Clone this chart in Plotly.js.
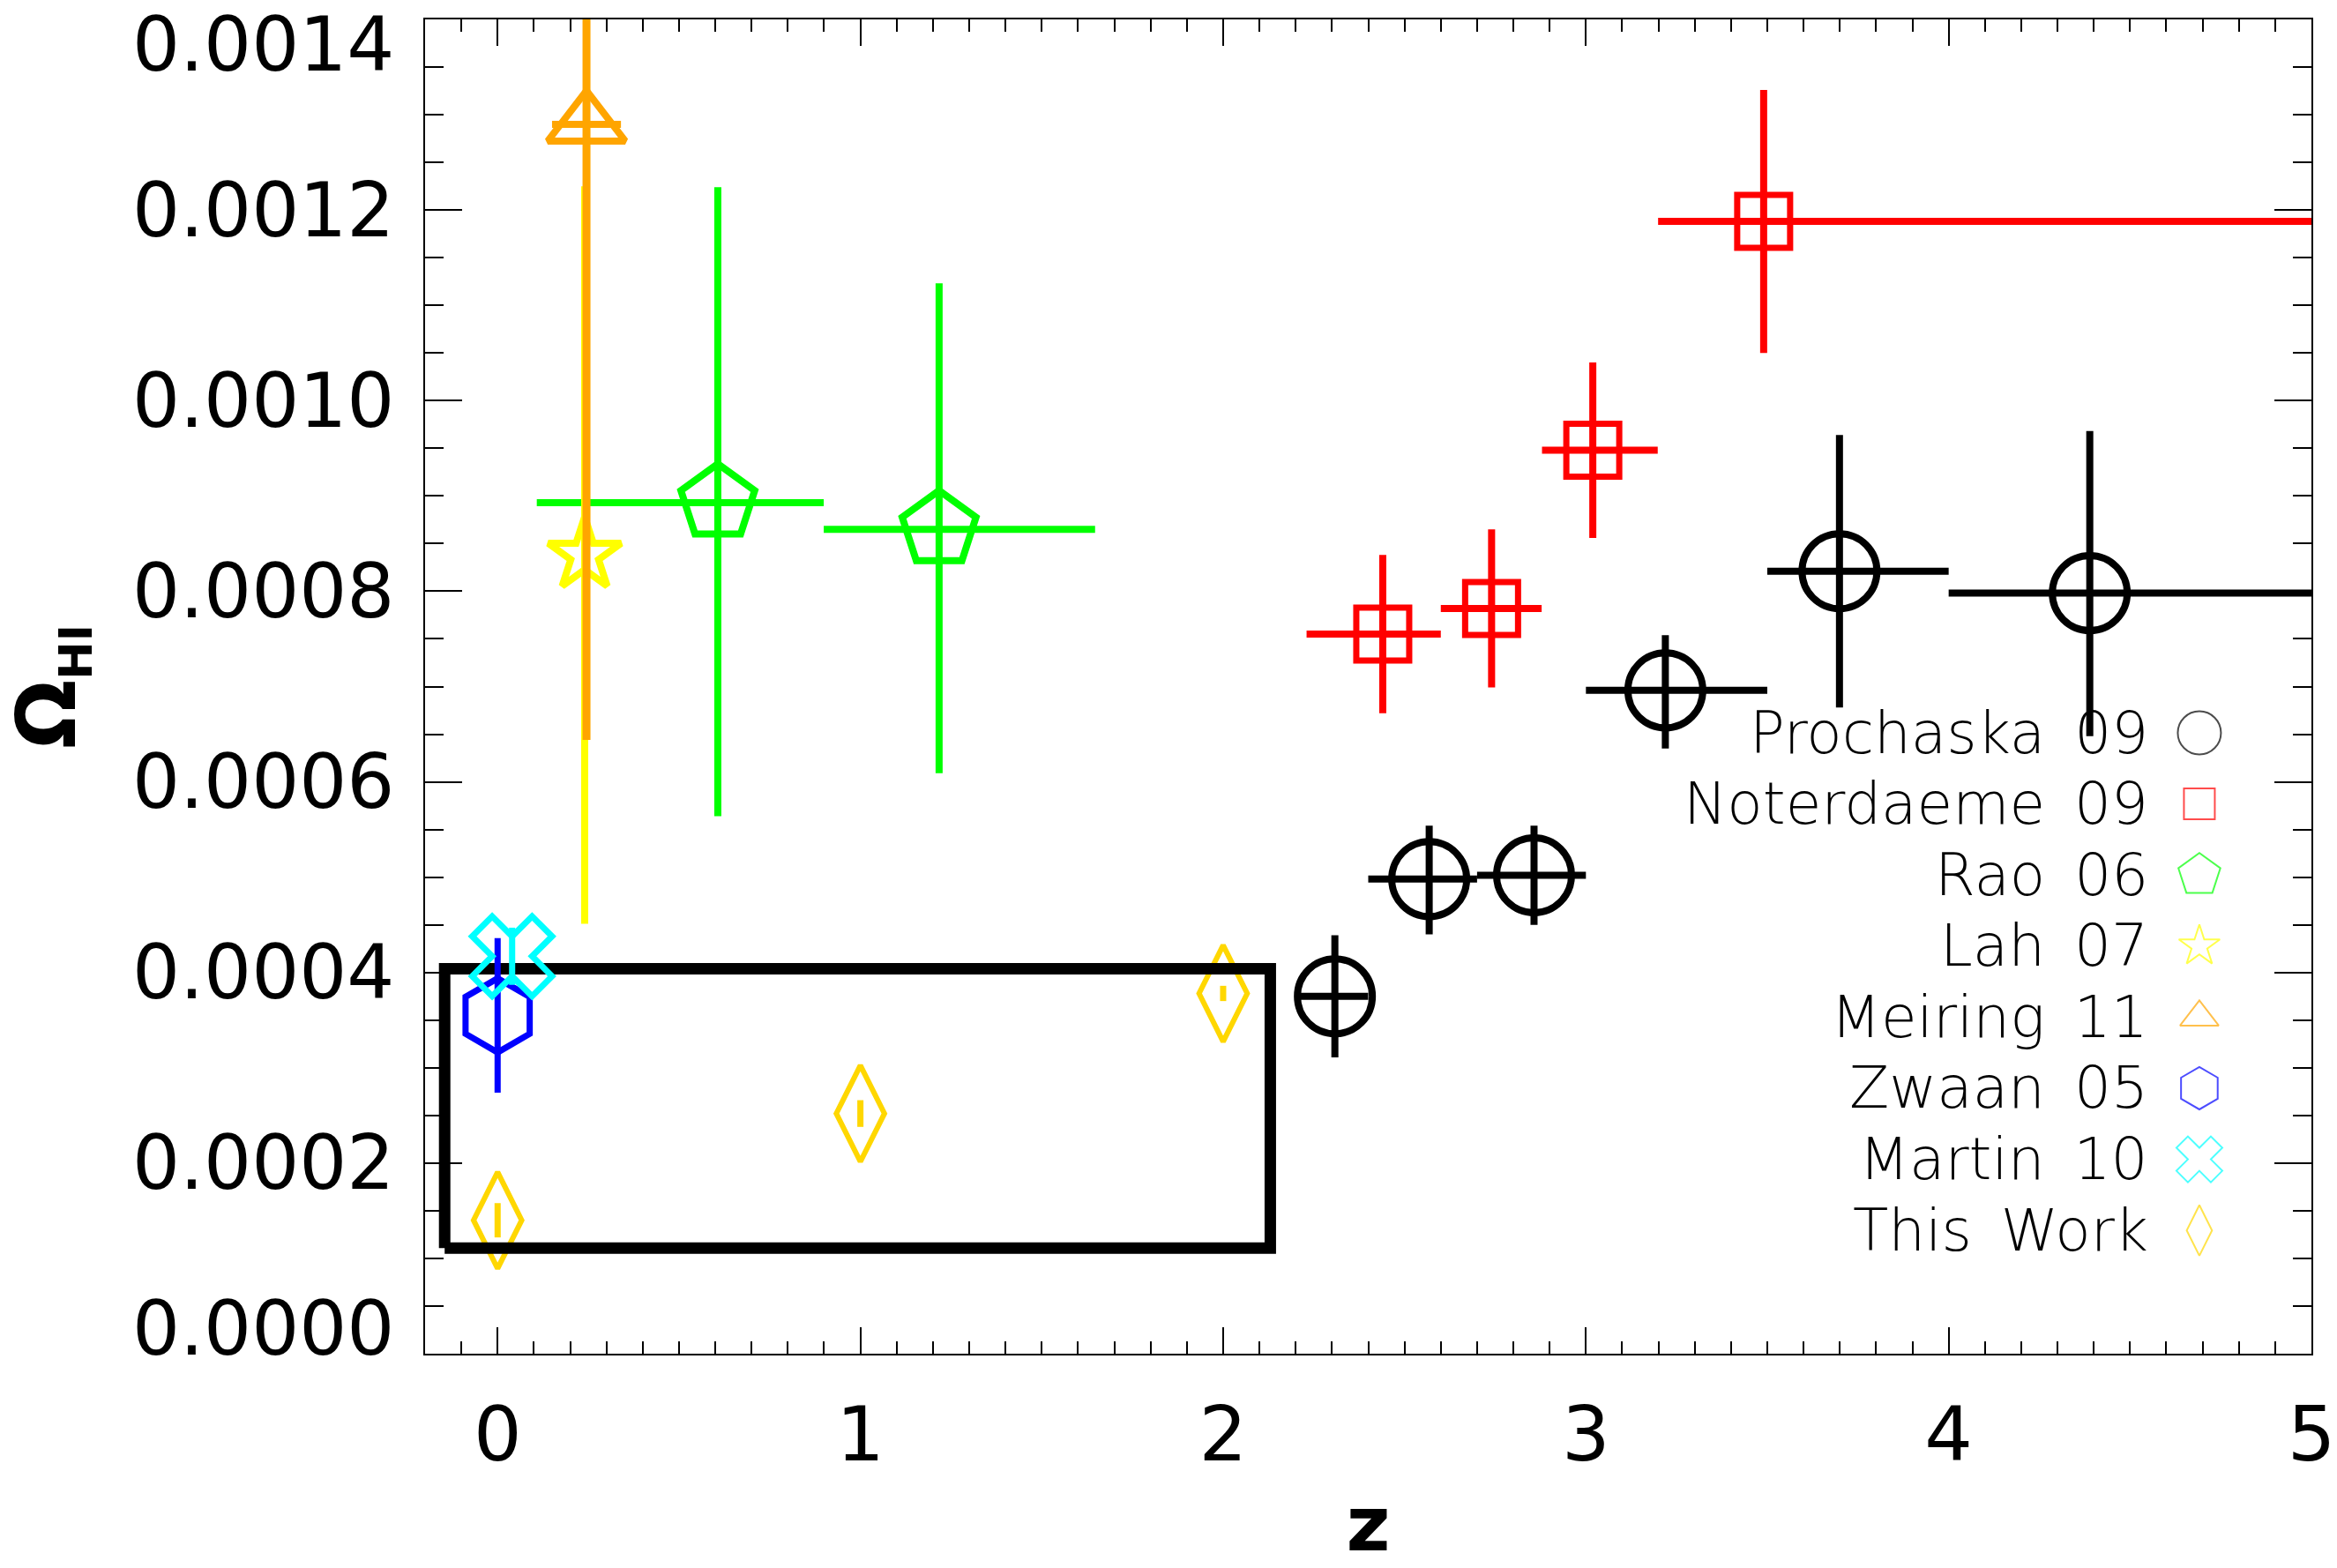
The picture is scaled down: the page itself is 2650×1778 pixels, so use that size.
<!DOCTYPE html>
<html><head><meta charset="utf-8">
<script src="https://cdn.plot.ly/plotly-3.0.1.min.js"></script>
<style>html,body{margin:0;padding:0;background:#fff}</style>
</head><body><div id="chart" style="width:2650px;height:1778px"></div>
<script>
// ---------------- data ----------------
// Prochaska 09
const proZ      = [2.308, 2.568, 2.857, 3.219, 3.699, 4.389];
const proOmega  = [0.000375, 0.000498, 0.000502, 0.000696, 0.000821, 0.000798];
const proErrUp  = [0.000064, 0.000056, 0.000052, 0.000058, 0.000143, 0.000170];
const proErrDn  = [0.000064, 0.000058, 0.000052, 0.000061, 0.000143, 0.000150];
const proZlo    = [0.108, 0.168, 0.157, 0.219, 0.199, 0.389];
const proZhi    = [0.092, 0.132, 0.143, 0.281, 0.301, 0.611];
// Noterdaeme 09
const notZ      = [2.440, 2.740, 3.019, 3.490];
const notOmega  = [0.000755, 0.000782, 0.000948, 0.001188];
const notErr    = [0.000083, 0.000083, 0.000092, 0.000138];
const notZlo    = [0.210, 0.140, 0.140, 0.291];
const notZhi    = [0.160, 0.138, 0.179, 1.510];
// Rao 06
const raoZ      = [0.607, 1.217];
const raoOmega  = [0.000893, 0.000865];
const raoErrUp  = [0.000331, 0.000258];
const raoErrDn  = [0.000329, 0.000256];
const raoZlo    = [0.499, 0.318];
const raoZhi    = [0.292, 0.430];
// Lah 07
const lahZ      = [0.240];
const lahOmega  = [0.000838];
const lahErr    = [0.000387];
// Meiring 11
const meiZ      = [0.245];
const meiOmega  = [0.00129];
const meiErr    = [0.000646];
const meiZerr   = [0.095];
// Zwaan 05
const zwaZ      = [0.0];
const zwaOmega  = [0.000355];
const zwaErr    = [0.000081];
// Martin 10
const marZ      = [0.04];
const marOmega  = [0.000417];
const marErr    = [0.00003];
// This Work
const thisZ     = [0, 1, 2];
const thisOmega = [0.00014, 0.000252, 0.000378];
const thisErr   = [0.000018, 0.000014, 0.000008];
// highlight box
const boxZ      = [-0.146, 2.130];
const boxOmega  = [0.0001107, 0.000404];

// axes
const xTickVals = [0, 1, 2, 3, 4, 5];
const xTickText = ['0', '1', '2', '3', '4', '5'];
const yTickVals = [0, 0.0002, 0.0004, 0.0006, 0.0008, 0.0010, 0.0012, 0.0014];
const yTickText = ['0.0000', '0.0002', '0.0004', '0.0006', '0.0008', '0.0010', '0.0012', '0.0014'];

// legend
const legendNames   = ['Prochaska 09', 'Noterdaeme 09', 'Rao 06', 'Lah 07', 'Meiring 11', 'Zwaan 05', 'Martin 10', 'This Work'];
const legendColors  = ['#000000', '#ff0000', '#00ff00', '#ffff00', '#ffa500', '#0000ff', '#00ffff', '#ffd700'];
const legendSymbols = ['circle-open', 'square-open', 'pentagon-open', 'star-open', 'triangle-up-open', 'hexagon-open', 'x-open', 'diamond-tall-open'];

// ---------------- styling ----------------
const FONT = 'DejaVu Sans';
const legendSizes = [49, 35, 50, 35, 38, 48, 46, 41];
const legTextX = 0.9145, legSymX = 0.9406, legY0 = 0.4653, legStep = 0.05327;
const yTickShift = [29, 0, 0, 0, 0, 0, 0, -28];

function errY(up, dn, color, th) {
  return {type: 'data', symmetric: false, array: up, arrayminus: dn, color: color, thickness: th, width: 0, visible: true};
}
function errX(hi, lo, color, th) {
  return {type: 'data', symmetric: false, array: hi, arrayminus: lo, color: color, thickness: th, width: 0, visible: true};
}
function pts(name, x, y, color, symbol, size, lw) {
  return {type: 'scatter', mode: 'markers', name: name, x: x, y: y, showlegend: false, hoverinfo: 'skip',
    marker: {symbol: symbol, size: size, color: color, line: {color: color, width: lw}}};
}

const traces = [];
let t;
t = pts('Prochaska 09', proZ, proOmega, '#000000', 'circle-open', 85, 8);
t.error_y = errY(proErrUp, proErrDn, '#000000', 8); t.error_x = errX(proZhi, proZlo, '#000000', 8);
traces.push(t);
t = pts('Noterdaeme 09', notZ, notOmega, '#ff0000', 'square-open', 60, 7);
t.error_y = errY(notErr, notErr, '#ff0000', 8); t.error_x = errX(notZhi, notZlo, '#ff0000', 8);
traces.push(t);
t = pts('Rao 06', raoZ, raoOmega, '#00ff00', 'pentagon-open', 88, 8);
t.error_y = errY(raoErrUp, raoErrDn, '#00ff00', 8); t.error_x = errX(raoZhi, raoZlo, '#00ff00', 8);
traces.push(t);
t = pts('Lah 07', lahZ, lahOmega, '#ffff00', 'star-open', 62, 8);
t.error_y = errY(lahErr, lahErr, '#ffff00', 8);
traces.push(t);
t = pts('Meiring 11', meiZ, meiOmega, '#ffa500', 'triangle-up-open', 76, 8);
t.error_y = errY(meiErr, meiErr, '#ffa500', 9); t.error_x = errX(meiZerr, meiZerr, '#ffa500', 8);
traces.push(t);
t = pts('This Work', thisZ, thisOmega, '#ffd700', 'diamond-tall-open', 78, 6);
t.error_y = errY(thisErr, thisErr, '#ffd700', 7);
traces.push(t);
traces.push({type: 'scatter', mode: 'lines', name: 'box', showlegend: false, hoverinfo: 'skip',
  x: [boxZ[0], boxZ[1], boxZ[1], boxZ[0], boxZ[0]],
  y: [boxOmega[0], boxOmega[0], boxOmega[1], boxOmega[1], boxOmega[0]],
  line: {color: '#000000', width: 13}});
t = pts('Zwaan 05', zwaZ, zwaOmega, '#0000ff', 'hexagon-open', 84, 7);
t.error_y = errY(zwaErr, zwaErr, '#0000ff', 7);
traces.push(t);
t = pts('Martin 10', marZ, marOmega, '#00ffff', 'x-open', 80, 7);
t.error_y = errY(marErr, marErr, '#00ffff', 7);
traces.push(t);

// legend symbols on an overlay axis pair spanning the plot area [0,1]
traces.push({type: 'scatter', mode: 'markers', xaxis: 'x2', yaxis: 'y2', showlegend: false, hoverinfo: 'skip',
  x: legendNames.map(() => legSymX),
  y: legendNames.map((_, i) => legY0 - i * legStep),
  marker: {symbol: legendSymbols, size: legendSizes, color: legendColors, line: {color: legendColors, width: 2}},
  cliponaxis: false});

const annotations = [];
legendNames.forEach((n, i) => {
  annotations.push({xref: 'paper', yref: 'paper', x: legTextX, y: legY0 - i * legStep,
    xanchor: 'right', yanchor: 'middle', showarrow: false,
    text: n.replace(/ /g, '\u2002'),
    font: {family: FONT, size: 66, color: '#000000', weight: 300}});
});
yTickVals.forEach((v, i) => {
  annotations.push({xref: 'paper', yref: 'y', x: 0, y: v, xanchor: 'right', yanchor: 'middle',
    xshift: -33, yshift: yTickShift[i], showarrow: false, text: yTickText[i],
    font: {family: FONT, size: 85, color: '#000000'}});
});

const layout = {
  width: 2650, height: 1778,
  margin: {l: 482, r: 29, t: 22, b: 243, pad: 0},
  paper_bgcolor: '#ffffff', plot_bgcolor: '#ffffff',
  showlegend: false,
  font: {family: FONT, color: '#000000'},
  xaxis: {
    range: [-0.2, 5], tickvals: xTickVals, ticktext: xTickText,
    ticks: 'inside', ticklen: 30, tickwidth: 2, tickcolor: '#000000',
    showline: true, linewidth: 2, linecolor: '#000000', mirror: 'ticks',
    showgrid: false, zeroline: false,
    minor: {dtick: 0.1, ticks: 'inside', ticklen: 14, tickwidth: 2, tickcolor: '#000000', showgrid: false},
    tickfont: {family: FONT, size: 86, color: '#000000'},
    ticklabelstandoff: 16,
    title: {text: '<b>z</b>', font: {family: FONT, size: 86, color: '#000000'}, standoff: 55}
  },
  yaxis: {
    range: [0, 0.0014], tickvals: yTickVals, showticklabels: false,
    ticks: 'inside', ticklen: 42, tickwidth: 2, tickcolor: '#000000',
    showline: true, linewidth: 2, linecolor: '#000000', mirror: 'ticks',
    showgrid: false, zeroline: false,
    minor: {dtick: 0.00005, ticks: 'inside', ticklen: 21, tickwidth: 2, tickcolor: '#000000', showgrid: false},
    title: {text: "<b>Ω<sub><span style='font-size:52px'>HI</span></sub></b>",
      font: {family: FONT, size: 92, color: '#000000'}, standoff: 410}
  },
  xaxis2: {overlaying: 'x', anchor: 'y2', range: [0, 1], visible: false, fixedrange: true},
  yaxis2: {overlaying: 'y', anchor: 'x2', range: [0, 1], visible: false, fixedrange: true},
  annotations: annotations
};

Plotly.newPlot('chart', traces, layout, {staticPlot: true, displayModeBar: false});
</script></body></html>
